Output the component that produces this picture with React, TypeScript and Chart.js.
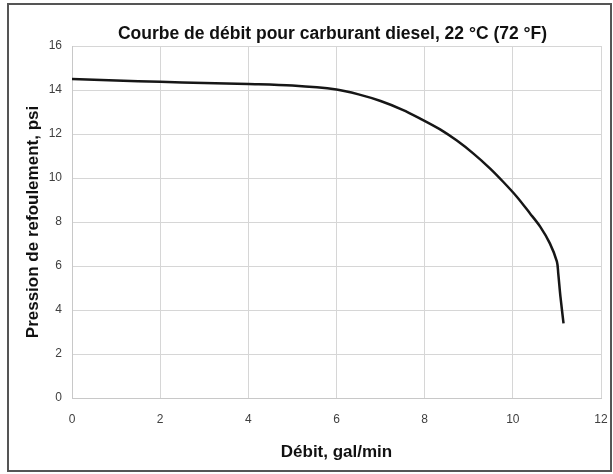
import React, { useEffect, useRef } from "react";
import { Chart, registerables } from "chart.js";

Chart.register(...registerables);

// Flow (gal/min) and discharge pressure (psi)
const flowGpm = [0, 1, 2, 3, 4, 5, 6, 6.5, 7, 7.5, 7.89, 8.35, 8.73, 9.1, 9.48, 9.78, 10.09, 10.39, 10.62, 10.84, 11.0, 11.03, 11.08, 11.15];
const pressurePsi = [14.5, 14.43, 14.37, 14.32, 14.27, 14.2, 14.02, 13.8, 13.5, 13.1, 12.71, 12.21, 11.7, 11.12, 10.44, 9.83, 9.15, 8.39, 7.79, 7.03, 6.2, 5.67, 4.61, 3.39];

const xMin = 0;
const xMax = 12;
const xStep = 2;
const yMin = 0;
const yMax = 16;
const yStep = 2;

const chartTitle = "Courbe de débit pour carburant diesel, 22 °C (72 °F)";
const xAxisTitle = "Débit, gal/min";
const yAxisTitle = "Pression de refoulement, psi";

const FONT = "'Liberation Sans', Arial, Helvetica, sans-serif";

export default function App() {
  const ref = useRef<HTMLCanvasElement>(null);

  useEffect(() => {
    const canvas = ref.current;
    if (!canvas) return;
    const chart = new Chart(canvas, {
      type: "scatter",
      data: {
        datasets: [
          {
            data: flowGpm.map((x, i) => ({ x, y: pressurePsi[i] })),
            showLine: true,
            borderColor: "#161616",
            borderWidth: 2.5,
            pointRadius: 0,
            pointHoverRadius: 0,
            tension: 0.3,
            fill: false,
          },
        ],
      },
      options: {
        responsive: false,
        animation: false,
        devicePixelRatio: 1,
        layout: { padding: 0 },
        plugins: {
          legend: { display: false },
          tooltip: { enabled: false },
          title: {
            display: true,
            text: chartTitle,
            color: "#111",
            font: { family: FONT, size: 17.5, weight: "bold", lineHeight: 1.2 },
            padding: { top: 23.5, bottom: 1.5 },
          },
        },
        scales: {
          x: {
            type: "linear",
            min: xMin,
            max: xMax,
            ticks: {
              stepSize: xStep,
              padding: 14,
              color: "#3f3f3f",
              font: { family: FONT, size: 12 },
            },
            grid: { color: "#d6d6d6", lineWidth: 1, drawTicks: false },
            border: { color: "#c8c8c8" },
            title: {
              display: true,
              text: xAxisTitle,
              color: "#111",
              font: { family: FONT, size: 17, weight: "bold", lineHeight: 1.2 },
              padding: { top: 0, bottom: 11.8 },
            },
            afterFit: (s: any) => {
              s.height = 76;
              s.paddingRight = 64;
            },
          },
          y: {
            type: "linear",
            min: yMin,
            max: yMax,
            ticks: {
              stepSize: yStep,
              padding: 10,
              color: "#3f3f3f",
              font: { family: FONT, size: 12 },
            },
            grid: { color: "#d6d6d6", lineWidth: 1, drawTicks: false },
            border: { color: "#c8c8c8" },
            title: {
              display: true,
              text: yAxisTitle,
              color: "#111",
              font: { family: FONT, size: 17, weight: "bold", lineHeight: 1.2 },
              padding: { top: 22.8, bottom: 0 },
            },
            afterFit: (s: any) => {
              s.width = 72;
            },
          },
        },
      },
    } as any);
    return () => chart.destroy();
  }, []);

  return (
    <div
      style={{
        position: "fixed",
        left: 0,
        top: 0,
        width: 613,
        height: 474,
        overflow: "hidden",
        background: "#fff",
      }}
    >
      <div
        style={{
          position: "absolute",
          left: 7,
          top: 3,
          width: 605,
          height: 469,
          border: "2px solid #555",
          boxSizing: "border-box",
        }}
      />
      <canvas
        ref={ref}
        width={665}
        height={474}
        style={{ position: "absolute", left: 0, top: 0, width: 665, height: 474 }}
      />
    </div>
  );
}
